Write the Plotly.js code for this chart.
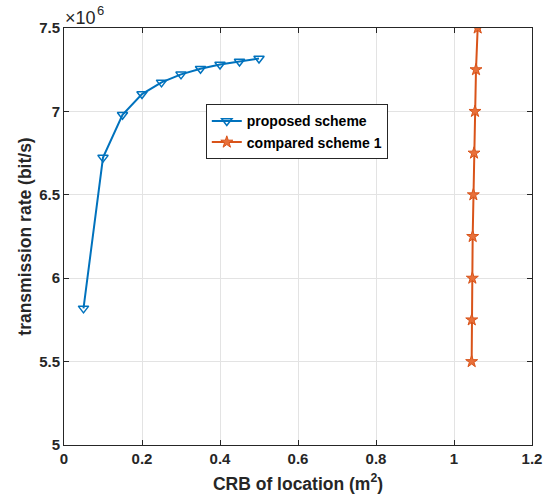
<!DOCTYPE html>
<html>
<head>
<meta charset="utf-8">
<script src="https://cdn.plot.ly/plotly-3.0.1.min.js"></script>
<style>html,body{margin:0;padding:0;background:#fff;}#chart{width:554px;height:502px;}</style>
</head>
<body>
<div id="chart"></div>
<script>
const proposedX = [0.05, 0.10, 0.15, 0.20, 0.25, 0.30, 0.35, 0.40, 0.45, 0.50];
const proposedY = [5.819e6, 6.723e6, 6.980e6, 7.104e6, 7.174e6, 7.222e6, 7.256e6, 7.281e6, 7.299e6, 7.317e6];
const comparedX = [1.0453, 1.0455, 1.0470, 1.0479, 1.0496, 1.0513, 1.0538, 1.0564, 1.0607];
const comparedY = [5.5e6, 5.75e6, 6.0e6, 6.25e6, 6.5e6, 6.75e6, 7.0e6, 7.25e6, 7.5e6];
const xTicks = [0, 0.2, 0.4, 0.6, 0.8, 1, 1.2];
const xTickText = ['0', '0.2', '0.4', '0.6', '0.8', '1', '1.2'];
const yTicks = [5e6, 5.5e6, 6e6, 6.5e6, 7e6, 7.5e6];
const yTickText = ['5', '5.5', '6', '6.5', '7', '7.5'];
const exponentBase = '×10';
const exponentPower = '6';

const font = '"Liberation Sans", Arial, Helvetica, sans-serif';
const bold = a => a.map(s => '<b>' + s + '</b>');
const traces = [
  {
    x: proposedX, y: proposedY, name: '<b>proposed scheme</b>', mode: 'lines+markers',
    line: {color: '#0072BD', width: 2},
    marker: {symbol: 'triangle-down-open', size: 9, color: '#0072BD', line: {width: 1.5, color: '#0072BD'}}
  },
  {
    x: comparedX, y: comparedY, name: '<b>compared scheme 1</b>', mode: 'lines+markers',
    line: {color: '#D95319', width: 2},
    marker: {symbol: 'star', size: 9, color: '#E8703A', line: {width: 1, color: '#D95319'}}
  }
];
const axisCommon = {
  showline: true, linecolor: '#262626', linewidth: 1, mirror: 'ticks',
  ticks: 'inside', ticklen: 5, tickcolor: '#262626',
  showgrid: true, gridcolor: '#E3E3E3', gridwidth: 1, zeroline: false,
  tickfont: {family: font, size: 15, color: '#262626', weight: 700}
};
const layout = {
  width: 554, height: 502,
  margin: {l: 64, r: 22, t: 27.5, b: 57},
  paper_bgcolor: '#fff', plot_bgcolor: '#fff',
  showlegend: true,
  legend: {
    x: 0.303, y: 0.817, xanchor: 'left', yanchor: 'top',
    bgcolor: '#fff', bordercolor: '#262626', borderwidth: 1,
    font: {family: font, size: 14, color: '#000'},
    tracegroupgap: 0, itemwidth: 30
  },
  xaxis: Object.assign({}, axisCommon, {
    range: [0, 1.2], tickvals: xTicks, ticktext: bold(xTickText),
    title: {text: '<b>CRB of location (m<sup>2</sup>)</b>', font: {family: font, size: 17.5, color: '#262626'}, standoff: 11}
  }),
  yaxis: Object.assign({}, axisCommon, {
    range: [5e6, 7.5e6], tickvals: yTicks, ticktext: bold(yTickText),
    title: {text: '<b>transmission rate (bit/s)</b>', font: {family: font, size: 17.5, color: '#262626'}, standoff: 3}
  }),
  annotations: [
    {
      xref: 'paper', yref: 'paper', x: 0, y: 1, xanchor: 'left', yanchor: 'bottom',
      text: exponentBase, showarrow: false, xshift: 0, yshift: -1, borderpad: 0,
      font: {family: font, size: 18, color: '#262626'}
    },
    {
      xref: 'paper', yref: 'paper', x: 0, y: 1, xanchor: 'left', yanchor: 'bottom',
      text: exponentPower, showarrow: false, xshift: 32, yshift: 9, borderpad: 0,
      font: {family: font, size: 13, color: '#262626'}
    }
  ]
};
Plotly.newPlot('chart', traces, layout, {displayModeBar: false, staticPlot: true});
</script>
</body>
</html>
